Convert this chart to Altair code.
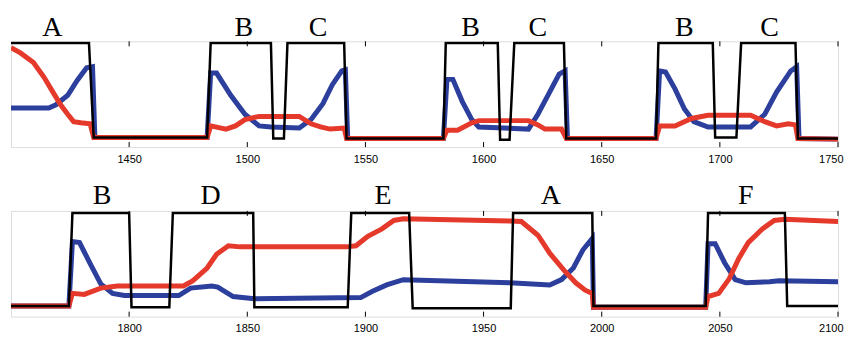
import altair as alt
import pandas as pd

# ---------------- top panel (1400-1750) ----------------
top_domain = [1400, 1750]
top_ticks = [1450, 1500, 1550, 1600, 1650, 1700, 1750]

top_black_x = [1400, 1433, 1435, 1483, 1484.5, 1510, 1511, 1515.5, 1517, 1541, 1542, 1583, 1584,
               1606, 1607, 1611, 1613, 1634, 1635, 1673, 1674, 1697, 1698, 1707, 1709, 1732, 1733, 1750]
top_black_y = [0.985, 0.985, 0.09, 0.09, 0.985, 0.985, 0.08, 0.08, 0.985, 0.985, 0.08, 0.08, 0.985,
               0.985, 0.07, 0.07, 0.985, 0.985, 0.08, 0.08, 0.985, 0.985, 0.09, 0.09, 0.985, 0.985, 0.08, 0.08]

top_red_x = [1400, 1404, 1409.5, 1414, 1418, 1421, 1424, 1426.5, 1429.5, 1433.5, 1435, 1483, 1484.5,
             1491, 1495, 1499, 1505, 1522, 1527, 1531, 1535, 1541, 1542, 1583, 1584.5, 1589, 1595,
             1598, 1619, 1623, 1626, 1633, 1635, 1673, 1674.5, 1681, 1688, 1695, 1713, 1719, 1724,
             1729, 1732, 1733, 1750]
top_red_y = [0.94, 0.89, 0.80, 0.66, 0.51, 0.40, 0.31, 0.24, 0.23, 0.22, 0.09, 0.09, 0.20,
             0.17, 0.20, 0.26, 0.29, 0.29, 0.22, 0.19, 0.17, 0.18, 0.08, 0.08, 0.16, 0.16, 0.23,
             0.25, 0.25, 0.21, 0.17, 0.17, 0.08, 0.08, 0.20, 0.20, 0.27, 0.30, 0.30, 0.24, 0.20,
             0.22, 0.21, 0.08, 0.075]

top_blue_x = [1400, 1416, 1419, 1424, 1428, 1432, 1434.5, 1435.5, 1483, 1484.5, 1487, 1493, 1499,
              1505, 1510, 1522, 1527, 1532, 1536, 1540, 1541.5, 1542.5, 1583, 1584.5, 1587, 1591,
              1595, 1598, 1619, 1623, 1627, 1632, 1634.5, 1635.5, 1673, 1674.5, 1677, 1681, 1685,
              1689, 1695, 1713, 1719, 1724, 1730, 1732.5, 1733.5, 1750]
top_blue_y = [0.37, 0.37, 0.40, 0.49, 0.63, 0.75, 0.76, 0.09, 0.09, 0.70, 0.70, 0.49, 0.31,
              0.20, 0.19, 0.18, 0.26, 0.41, 0.59, 0.72, 0.73, 0.08, 0.08, 0.64, 0.64, 0.43,
              0.26, 0.19, 0.17, 0.31, 0.48, 0.69, 0.72, 0.08, 0.08, 0.72, 0.71, 0.55, 0.36,
              0.24, 0.19, 0.19, 0.31, 0.52, 0.72, 0.76, 0.08, 0.075]

top_letters = ["A", "B", "C", "B", "C", "B", "C"]
top_letter_x = [1417.5, 1498.5, 1530, 1594.5, 1623, 1685, 1721]

# ---------------- bottom panel (1750-2100) ----------------
bot_domain = [1750, 2100]
bot_ticks = [1800, 1850, 1900, 1950, 2000, 2050, 2100]

bot_black_x = [1750, 1774.5, 1776, 1800, 1801, 1817, 1818.5, 1852.5, 1853, 1892.5, 1894, 1918.5,
               1920, 1961.5, 1962.5, 1996, 1996.5, 2044, 2045, 2077.5, 2078.5, 2100]
bot_black_y = [0.10, 0.10, 0.98, 0.98, 0.09, 0.09, 0.98, 0.98, 0.09, 0.09, 0.98, 0.98,
               0.08, 0.08, 0.98, 0.98, 0.10, 0.10, 0.98, 0.98, 0.10, 0.10]

bot_red_x = [1750, 1774.5, 1776, 1781, 1788, 1795, 1823, 1827, 1833, 1837, 1842, 1847, 1892,
             1896, 1901, 1907, 1912, 1916, 1961, 1966, 1973, 1978, 1984, 1989, 1993, 1996,
             1996.5, 2044, 2045, 2049.5, 2054, 2058, 2062, 2068, 2073, 2077.5, 2100]
bot_red_y = [0.10, 0.10, 0.22, 0.21, 0.27, 0.29, 0.29, 0.34, 0.46, 0.59, 0.67, 0.66, 0.66,
             0.67, 0.76, 0.83, 0.91, 0.925, 0.905, 0.90, 0.77, 0.60, 0.44, 0.32, 0.25, 0.22,
             0.09, 0.09, 0.19, 0.22, 0.36, 0.55, 0.70, 0.83, 0.91, 0.92, 0.90]

bot_blue_x = [1750, 1774.5, 1776, 1779, 1784, 1788, 1793, 1798, 1821, 1826, 1835, 1837.5, 1844,
              1853, 1898, 1903, 1909, 1916, 1961, 1978, 1983, 1988, 1992, 1996, 1996.5, 2044,
              2045, 2048, 2052, 2056.5, 2061, 2071, 2075, 2100]
bot_blue_y = [0.10, 0.10, 0.71, 0.70, 0.48, 0.31, 0.22, 0.20, 0.20, 0.27, 0.29, 0.28, 0.19,
              0.17, 0.18, 0.24, 0.30, 0.35, 0.32, 0.30, 0.35, 0.46, 0.63, 0.74, 0.09, 0.09,
              0.69, 0.69, 0.51, 0.35, 0.32, 0.33, 0.34, 0.33]

bot_letters = ["B", "D", "E", "A", "F"]
bot_letter_x = [1788.5, 1834.5, 1907.5, 1978.5, 2061]

RED = "#e5392c"
BLUE = "#2c3f9c"
W = 829


def panel(domain, ticks, bx, by, rx, ry, ux, uy, letters, lx, H, letter_dy):
    xenc = alt.X(
        "t:Q",
        scale=alt.Scale(domain=domain, nice=False, zero=False),
        axis=alt.Axis(values=ticks, title=None, ticks=False, domain=False, grid=False,
                      labelFlush=True, labelFlushOffset=5, labelOverlap=False, labelPadding=6,
                      labelFont="Liberation Sans", labelFontSize=11, labelColor="black",
                      format="d"),
    )
    yenc = alt.Y("v:Q", scale=alt.Scale(domain=[0, 1], nice=False, zero=False), axis=None)

    def series(xs, ys):
        return pd.DataFrame({"t": xs, "v": ys, "i": list(range(len(xs)))})

    blue = alt.Chart(series(ux, uy)).mark_line(color=BLUE, strokeWidth=5, clip=True).encode(
        x=xenc, y=yenc, order="i:Q")
    red = alt.Chart(series(rx, ry)).mark_line(color=RED, strokeWidth=5, clip=True).encode(
        x=xenc, y=yenc, order="i:Q")
    black = alt.Chart(series(bx, by)).mark_line(color="black", strokeWidth=2.5, clip=True).encode(
        x=xenc, y=yenc, order="i:Q")

    tdf = pd.DataFrame({"t": ticks})
    tick_top = alt.Chart(tdf).mark_rule(color="black", strokeWidth=1).encode(
        x=xenc, y=alt.value(0), y2=alt.value(5))
    tick_bot = alt.Chart(tdf).mark_rule(color="black", strokeWidth=1).encode(
        x=xenc, y=alt.value(H - 5), y2=alt.value(H))

    ldf = pd.DataFrame({"t": lx, "lab": letters})
    text = alt.Chart(ldf).mark_text(font="Liberation Serif", fontSize=28, baseline="alphabetic",
                                    align="center", color="black").encode(
        x=xenc, y=alt.value(-letter_dy), text="lab:N")

    return alt.layer(tick_top, tick_bot, blue, red, black, text).properties(width=W, height=H)


top = panel(top_domain, top_ticks, top_black_x, top_black_y, top_red_x, top_red_y,
            top_blue_x, top_blue_y, top_letters, top_letter_x, 106, 5)
bot = panel(bot_domain, bot_ticks, bot_black_x, bot_black_y, bot_red_x, bot_red_y,
            bot_blue_x, bot_blue_y, bot_letters, bot_letter_x, 106, 7)

chart = alt.vconcat(top, bot, spacing=16).properties(
    padding={"left": 2, "top": 5, "right": 0, "bottom": 0}
).resolve_scale(x="independent").configure_view(
    stroke="black", strokeWidth=1
).configure(background="white")

chart.save("out.html", embed_options={"renderer": "svg", "actions": False})
